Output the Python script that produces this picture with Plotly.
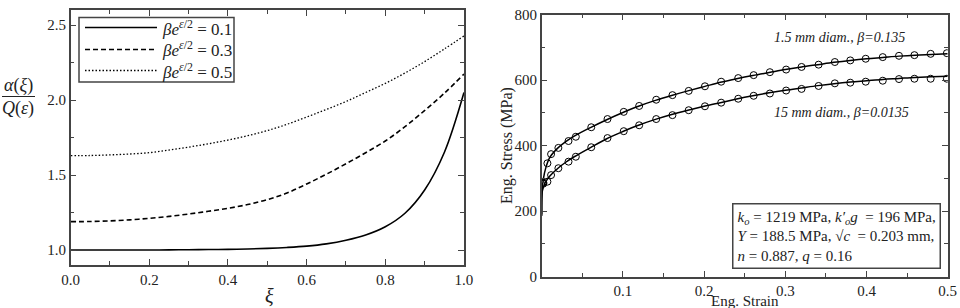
import plotly.graph_objects as go

# ---------------- Left panel data ----------------
xi = [0.0, 0.05, 0.1, 0.15, 0.2, 0.25, 0.3, 0.35, 0.4, 0.45, 0.5, 0.55, 0.6, 0.65, 0.7, 0.75, 0.8, 0.85,
      0.9, 0.95, 1.0]
alpha_01 = [1.0, 1.0, 1.0, 1.0, 1.0, 1.001, 1.002, 1.003, 1.004, 1.007, 1.011, 1.017, 1.026, 1.041,
            1.065, 1.10, 1.155, 1.245, 1.40, 1.65, 2.05]
alpha_03 = [1.189, 1.19, 1.194, 1.201, 1.211, 1.224, 1.24, 1.258, 1.278, 1.303, 1.336, 1.38, 1.44,
            1.505, 1.575, 1.648, 1.727, 1.822, 1.93, 2.045, 2.173]
alpha_05 = [1.629, 1.63, 1.634, 1.64, 1.649, 1.666, 1.686, 1.708, 1.733, 1.762, 1.796, 1.838, 1.886,
            1.937, 1.99, 2.05, 2.111, 2.18, 2.256, 2.34, 2.427]
legend_names = ["<i>βe</i><sup><i>ε</i>/2</sup> = 0.1",
                "<i>βe</i><sup><i>ε</i>/2</sup> = 0.3",
                "<i>βe</i><sup><i>ε</i>/2</sup> = 0.5"]

# ---------------- Right panel data ----------------
strain_line = [0.0, 0.0005, 0.002, 0.005, 0.01, 0.02, 0.03, 0.04, 0.06, 0.08, 0.10, 0.12, 0.14, 0.16,
               0.18, 0.20, 0.22, 0.24, 0.26, 0.28, 0.30, 0.32, 0.34, 0.36, 0.38, 0.40, 0.42,
               0.44, 0.46, 0.48, 0.50]
fit_15mm_small = [190, 262, 298, 332, 364, 393, 413, 429, 455, 479, 501, 521, 538, 553,
                  567, 580, 593, 604, 614, 623, 632, 640, 647, 654, 660, 665, 669,
                  673, 676, 678, 680]
fit_15mm_large = [185, 258, 272, 290, 307, 331, 350, 366, 394, 421, 443, 463, 480, 495,
                  508, 520, 531, 542, 552, 561, 569, 576, 583, 589, 594, 598, 602,
                  605, 608, 610, 612]

strain_pts = [0.002, 0.007, 0.0115, 0.0205, 0.033, 0.042, 0.061, 0.081, 0.101, 0.120, 0.141,
              0.161, 0.181, 0.201, 0.221, 0.242, 0.261, 0.281, 0.301, 0.320, 0.341,
              0.361, 0.380, 0.399, 0.420, 0.440, 0.459, 0.479, 0.499]
exp_small = [287, 346, 374, 393, 414, 427, 456, 481, 503, 521, 540, 554, 567, 581, 595, 606,
             615, 624, 632, 640, 647, 655, 660, 665, 670, 674, 676, 680, 682]
exp_large = [284, 290, 310, 331, 351, 366, 395, 423, 444, 462, 481, 493, 508, 520, 531, 543,
             552, 559, 568, 573, 582, 590, 592, 595, 598, 603, 604, 604, 604]

FONT = "Liberation Serif, Times New Roman, Times, serif"
AX = "#444444"
TXT = "#222222"

fig = go.Figure()

dashes = ["solid", "5px,3px", "1.5px,2px"]
widths = [1.6, 1.6, 1.3]
for ys, nm, d, w in zip([alpha_01, alpha_03, alpha_05], legend_names, dashes, widths):
    fig.add_trace(go.Scatter(x=xi, y=ys, mode="lines", name=nm,
                             line=dict(color="black", width=w, dash=d, shape="spline", smoothing=1.0),
                             xaxis="x", yaxis="y", showlegend=False))

for ys in [fit_15mm_small, fit_15mm_large]:
    fig.add_trace(go.Scatter(x=strain_line, y=ys, mode="lines", line=dict(color="black", width=1.5, shape="spline"),
                             xaxis="x2", yaxis="y2", showlegend=False))
for ys in [exp_small, exp_large]:
    fig.add_trace(go.Scatter(x=strain_pts, y=ys, mode="markers",
                             marker=dict(symbol="circle-open", size=7, color="black", line=dict(width=1)),
                             xaxis="x2", yaxis="y2", showlegend=False))

common = dict(showline=True, linecolor=AX, linewidth=1.5, mirror="ticks", ticks="inside",
              tickcolor=AX, ticklen=6, tickwidth=1.2, showgrid=False, zeroline=False, automargin=False,
              tickfont=dict(family=FONT, size=15, color=TXT))

fig.update_layout(
    template="none",
    width=960, height=308, margin=dict(l=0, r=0, t=0, b=0, autoexpand=False),
    plot_bgcolor="white", paper_bgcolor="white",
    font=dict(family=FONT, color=TXT),
    xaxis=dict(domain=[0.0736, 0.4833], range=[0, 1], tickvals=[0, 0.2, 0.4, 0.6, 0.8, 1.0],
               tickformat=".1f", minor=dict(dtick=0.1, ticks="inside", ticklen=4, tickcolor=AX), anchor="y", **common),
    yaxis=dict(domain=[0.1396, 0.9675], range=[0.9, 2.6], tickvals=[1.0, 1.5, 2.0, 2.5],
               tickformat=".1f", minor=dict(dtick=0.25, ticks="inside", ticklen=4, tickcolor=AX), anchor="x", **common),
    xaxis2=dict(domain=[0.5643, 0.9872], range=[0, 0.5], tickvals=[0.1, 0.2, 0.3, 0.4, 0.5],
                minor=dict(dtick=0.05, ticks="inside", ticklen=4, tickcolor=AX), anchor="y2", **common),
    yaxis2=dict(domain=[0.1016, 0.9529], range=[0, 800], tickvals=[0, 200, 400, 600, 800],
                minor=dict(dtick=100, ticks="inside", ticklen=4, tickcolor=AX), anchor="x2", **common),
    showlegend=False,
)


def px(x):
    return x / 960


def py(y):
    return 1 - y / 308


annots = [
    dict(text="<i>α</i>(<i>ξ</i>)", x=px(18), y=py(85)),
    dict(text="<i>Q</i>(<i>ε</i>)", x=px(18), y=py(108)),
    dict(text="<i>ξ</i>", x=px(269), y=py(296), size=20),
    dict(text="Eng. Strain", x=px(745), y=py(300.5), size=15),
    dict(text="<i>1.5 mm diam., β=0.135</i>", x=px(839), y=py(38), size=14),
    dict(text="<i>15 mm diam., β=0.0135</i>", x=px(841), y=py(113), size=14),
]
ann_list = []
for a in annots:
    ann_list.append(dict(text=a["text"], x=a["x"], y=a["y"], xref="paper", yref="paper",
                         xanchor="center", yanchor="middle", showarrow=False,
                         font=dict(family=FONT, size=a.get("size", 18), color=TXT)))

# right y-axis title
ann_list.append(dict(text="Eng. Stress (MPa)", x=px(507), y=py(145), xref="paper", yref="paper",
                     xanchor="center", yanchor="middle", textangle=-90, showarrow=False,
                     font=dict(family=FONT, size=16, color=TXT)))

# parameter box
ann_list.append(dict(
    text="<i>k<sub>o</sub></i> = 1219 MPa, <i>k′<sub>o</sub>g</i>  = 196 MPa,<br>"
         "<i>Y</i> = 188.5 MPa, √<i>c</i>  = 0.203 mm,<br>"
         "<i>n</i> = 0.887, <i>q</i> = 0.16",
    x=px(941), y=py(269), xref="paper", yref="paper", xanchor="right", yanchor="bottom",
    showarrow=False, align="left", bordercolor=AX, borderwidth=1.5, borderpad=4, bgcolor="white",
    font=dict(family=FONT, size=15, color=TXT)))

# manual legend (long line samples as in the reference)
leg_rows = [27.5, 49.5, 70.5]
shapes = [dict(type="rect", xref="paper", yref="paper", x0=px(79), x1=px(234), y0=py(82), y1=py(17.5),
               line=dict(color=AX, width=1.5), fillcolor="white", layer="above")]
for nm, d, w, ry in zip(legend_names, dashes, widths, leg_rows):
    shapes.append(dict(type="line", xref="paper", yref="paper", x0=px(85), x1=px(157), y0=py(ry), y1=py(ry),
                       line=dict(color="black", width=w, dash=d), layer="above"))
    ann_list.append(dict(text=nm, x=px(160), y=py(ry), xref="paper", yref="paper", xanchor="left",
                         yanchor="middle", showarrow=False, font=dict(family=FONT, size=17, color=TXT)))

# fraction bar of the left y-axis title
shapes.append(dict(type="line", xref="paper", yref="paper", x0=px(2), x1=px(35), y0=py(96.5), y1=py(96.5),
                   line=dict(color=TXT, width=1.2)))

fig.update_layout(annotations=ann_list, shapes=shapes)

fig.write_html("out.html")
